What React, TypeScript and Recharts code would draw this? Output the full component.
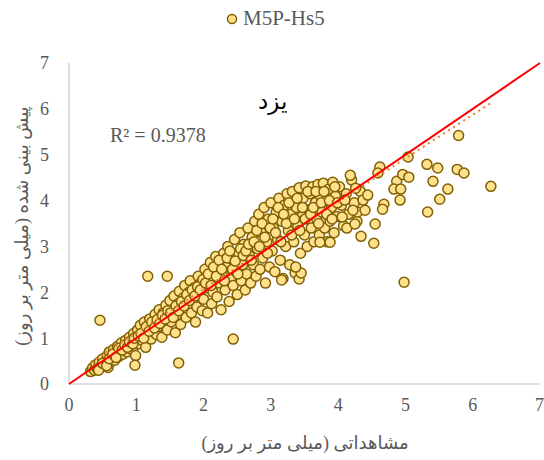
import { ScatterChart, Scatter, XAxis, YAxis } from 'recharts';

// observed (x) vs predicted (y), mm/day
const cloud: [number, number][] = [
  [0.32, 0.27], [0.35, 0.35], [0.38, 0.3], [0.4, 0.42], [0.42, 0.33], [0.45, 0.48], [0.47, 0.38],
  [0.5, 0.55], [0.52, 0.42], [0.55, 0.5], [0.57, 0.62], [0.58, 0.36], [0.6, 0.7], [0.62, 0.48],
  [0.64, 0.58], [0.66, 0.75], [0.68, 0.52], [0.7, 0.66], [0.72, 0.82], [0.74, 0.6], [0.76, 0.72],
  [0.78, 0.9], [0.8, 0.65], [0.82, 0.78], [0.84, 0.95], [0.86, 0.7], [0.88, 0.86], [0.9, 1.02],
  [0.92, 0.76], [0.94, 0.92], [0.96, 1.1], [0.98, 0.84], [0.99, 0.62],
  [1.0, 1.0], [1.02, 1.18], [1.04, 0.88], [1.06, 1.28], [1.08, 0.96], [1.1, 1.12], [1.12, 1.35],
  [1.14, 0.8], [1.16, 1.05], [1.18, 1.22], [1.2, 1.42], [1.22, 0.98], [1.24, 1.15], [1.26, 1.3],
  [1.28, 1.52], [1.3, 1.08], [1.32, 1.25], [1.34, 1.62], [1.36, 1.4], [1.38, 1.02], [1.4, 1.55],
  [1.42, 1.3], [1.44, 1.72], [1.46, 1.18], [1.48, 1.48], [1.5, 1.82], [1.52, 1.36], [1.54, 1.62],
  [1.56, 1.92], [1.58, 1.12], [1.6, 1.5], [1.62, 1.75], [1.64, 2.02], [1.66, 1.3], [1.68, 1.6],
  [1.7, 1.88], [1.72, 2.15], [1.74, 1.45], [1.76, 1.72], [1.78, 2.0], [1.8, 2.25], [1.82, 1.55],
  [1.84, 1.85], [1.86, 2.1], [1.88, 1.35], [1.9, 1.68], [1.92, 2.35], [1.94, 1.95], [1.96, 2.2],
  [1.98, 1.6], [2.0, 1.85], [2.02, 2.5], [2.04, 2.1], [2.06, 1.55], [2.08, 2.3], [2.1, 2.65],
  [2.12, 1.75], [2.14, 2.0], [2.16, 2.45], [2.18, 2.78], [2.2, 1.9], [2.22, 2.2], [2.24, 2.6],
  [2.26, 1.62], [2.28, 2.38], [2.3, 2.85], [2.32, 2.05], [2.34, 2.55], [2.36, 3.0], [2.38, 1.8],
  [2.4, 2.3], [2.42, 2.72], [2.44, 2.15], [2.46, 3.15], [2.48, 2.45], [2.5, 1.95], [2.52, 2.85],
  [2.54, 3.3], [2.56, 2.25], [2.58, 2.6], [2.6, 3.05], [2.62, 2.05], [2.64, 2.4], [2.66, 3.4],
  [2.68, 2.8], [2.7, 2.2], [2.72, 3.2], [2.74, 2.6], [2.76, 3.55], [2.78, 2.35], [2.8, 2.95],
  [2.82, 3.7], [2.84, 2.5], [2.86, 3.3], [2.88, 2.75], [2.9, 3.85], [2.92, 2.2], [2.94, 3.1],
  [2.96, 3.6], [2.98, 2.55], [3.0, 3.95], [3.02, 2.9], [3.04, 3.4], [3.06, 2.45], [3.08, 3.75],
  [3.1, 3.15], [3.12, 4.05], [3.14, 2.7], [3.16, 3.55], [3.18, 2.3], [3.2, 3.9], [3.22, 3.0],
  [3.24, 4.15], [3.26, 3.35], [3.28, 2.6], [3.3, 3.7], [3.32, 4.2], [3.34, 3.1], [3.36, 2.42],
  [3.38, 3.85], [3.4, 3.45], [3.42, 4.28], [3.44, 2.85], [3.46, 3.65], [3.48, 4.05], [3.5, 3.25],
  [3.52, 4.32], [3.54, 3.0], [3.56, 3.8], [3.58, 4.15], [3.6, 3.4], [3.62, 4.3], [3.64, 3.1],
  [3.66, 3.95], [3.68, 3.6], [3.7, 4.35], [3.72, 3.25], [3.74, 4.1], [3.76, 3.75], [3.78, 4.38],
  [3.8, 3.4], [3.82, 4.0], [3.84, 3.1], [3.86, 4.25], [3.88, 3.55], [3.9, 3.85], [3.92, 4.4],
  [3.94, 3.3], [3.96, 4.1], [3.98, 3.65], [4.02, 4.3], [4.05, 3.9], [4.08, 3.45], [4.12, 4.15],
  [4.15, 3.7], [4.2, 4.45], [4.24, 3.95], [4.28, 3.55], [4.33, 4.2],
  // second pass, filling the band
  [0.44, 0.3], [0.5, 0.45], [0.56, 0.4], [0.6, 0.55], [0.65, 0.65], [0.7, 0.58], [0.74, 0.78],
  [0.79, 0.74], [0.83, 0.85], [0.87, 0.8], [0.9, 0.92], [0.95, 0.88], [0.97, 1.0],
  [1.03, 1.05], [1.07, 1.1], [1.11, 1.0], [1.15, 1.25], [1.19, 1.15], [1.23, 1.35], [1.27, 1.22],
  [1.31, 1.4], [1.35, 1.32], [1.39, 1.5], [1.43, 1.42], [1.47, 1.6], [1.51, 1.55], [1.55, 1.45],
  [1.59, 1.7], [1.63, 1.6], [1.67, 1.8], [1.71, 1.7], [1.75, 1.95], [1.79, 1.82], [1.83, 2.05],
  [1.87, 1.92], [1.91, 2.12], [1.95, 2.05], [1.99, 2.28], [2.03, 2.2], [2.07, 2.4], [2.11, 2.15],
  [2.15, 2.55], [2.19, 2.35], [2.23, 2.7], [2.27, 2.5], [2.31, 2.25], [2.35, 2.75], [2.39, 2.9],
  [2.43, 2.5], [2.47, 2.68], [2.51, 2.4], [2.55, 2.95], [2.59, 2.8], [2.63, 2.9], [2.67, 3.05],
  [2.71, 2.7], [2.75, 3.1], [2.79, 3.35], [2.83, 3.0], [2.87, 3.5], [2.91, 3.2], [2.95, 2.85],
  [2.99, 3.4], [3.03, 3.6], [3.07, 3.3], [3.11, 3.85], [3.15, 3.1], [3.19, 3.7], [3.23, 3.5],
  [3.27, 3.95], [3.31, 3.25], [3.35, 3.6], [3.39, 4.05], [3.43, 3.35], [3.47, 3.85], [3.51, 3.6],
  [3.55, 4.2], [3.59, 3.7], [3.63, 3.85], [3.67, 4.2], [3.71, 3.5], [3.75, 3.95], [3.79, 4.2],
  [3.83, 3.7], [3.87, 4.0], [3.91, 3.6], [3.95, 4.3], [3.99, 3.95],
];

const outliers: [number, number][] = [
  [0.46, 1.39], [1.17, 2.35], [1.46, 2.35], [0.98, 0.41], [1.63, 0.46], [2.44, 0.98],
  [4.98, 2.22], [3.16, 2.27], [3.42, 2.29], [3.45, 2.42], [3.37, 2.55], [3.73, 3.09],
  [3.88, 3.09], [4.18, 4.55], [4.06, 3.64], [4.13, 3.4], [4.25, 3.49], [4.34, 3.22],
  [4.53, 3.07], [4.55, 3.49], [4.29, 3.75], [4.4, 3.79], [4.22, 3.79], [4.37, 4.01],
  [4.1, 4.01], [4.26, 4.27], [4.44, 4.12], [4.68, 3.92], [4.66, 3.81], [4.62, 4.73],
  [4.59, 4.6], [4.87, 4.42], [4.83, 4.25], [4.93, 4.25], [4.92, 4.01], [4.96, 4.57],
  [5.05, 4.51], [5.04, 4.95], [5.32, 4.79], [5.48, 4.71], [5.77, 4.68], [5.87, 4.6],
  [5.41, 4.42], [5.63, 4.25], [5.51, 4.03], [5.33, 3.75], [5.79, 5.42], [6.27, 4.31],
];

const axisTicks = [0, 1, 2, 3, 4, 5, 6, 7];
const trendSlope = 0.95;
const trendIntercept = 0.17;
const trendRange = [0.32, 6.27];
const oneToOne = [0, 7];
const rSquared = '0.9378';

const points = [...cloud, ...outliers].map(([x, y]) => ({ x, y }));
const trendData = trendRange.map((x) => ({ x, y: trendSlope * x + trendIntercept }));
const lineData = oneToOne.map((v) => ({ x: v, y: v }));

const serif = "'Liberation Serif', 'Times New Roman', 'DejaVu Sans', serif";
const gray = '#595959';

function Dot(props: any) {
  return (
    <circle cx={props.cx} cy={props.cy} r={5} fill="#FFE08C" stroke="#806000" strokeWidth={1.5} />
  );
}

const NoDot = () => <g />;

export default function App() {
  return (
    <div style={{ position: 'absolute', left: 0, top: 0, width: 544, height: 460, background: '#fff', fontFamily: serif }}>
      <ScatterChart width={544} height={460} margin={{ top: 63, right: 4, bottom: 46, left: 29 }}>
        <XAxis
          type="number"
          dataKey="x"
          domain={[0, 7]}
          ticks={axisTicks}
          stroke="#bfbfbf"
          tickLine={false}
          tickSize={0}
          tickMargin={14}
          height={30}
          tick={{ fill: gray, fontSize: 18, fontFamily: serif }}
        />
        <YAxis
          type="number"
          dataKey="y"
          domain={[0, 7]}
          ticks={axisTicks}
          stroke="#bfbfbf"
          tickLine={false}
          tickSize={0}
          tickMargin={20}
          width={40}
          tick={{ fill: gray, fontSize: 18, fontFamily: serif }}
        />
        <Scatter data={points} shape={Dot} isAnimationActive={false} />
        <Scatter
          data={trendData}
          shape={NoDot}
          line={{ stroke: '#ED7D31', strokeWidth: 2, strokeDasharray: '2 4' }}
          isAnimationActive={false}
        />
        <Scatter
          data={lineData}
          shape={NoDot}
          line={{ stroke: '#FF0000', strokeWidth: 2 }}
          isAnimationActive={false}
        />
      </ScatterChart>

      <div style={{ position: 'absolute', left: 226, top: 6, display: 'flex', alignItems: 'center', color: gray, fontSize: 21 }}>
        <svg width={12} height={12} style={{ marginRight: 5 }}>
          <circle cx={6} cy={6} r={4.5} fill="#FFE08C" stroke="#806000" strokeWidth={1.5} />
        </svg>
        M5P-Hs5
      </div>
      <div style={{ position: 'absolute', left: 258, top: 88, fontSize: 23, color: '#000', direction: 'rtl' }}>یزد</div>
      <div style={{ position: 'absolute', left: 110, top: 124, fontSize: 20, color: gray }}>
        R² = {rSquared}
      </div>
      <div
        style={{
          position: 'absolute',
          left: 22,
          top: 226,
          transform: 'translate(-50%, -50%) rotate(-90deg)',
          whiteSpace: 'nowrap',
          fontSize: 18,
          color: gray,
          direction: 'rtl',
        }}
      >
        پیش بینی شده (میلی متر بر روز)
      </div>
      <div
        style={{
          position: 'absolute',
          left: 305,
          top: 443,
          transform: 'translate(-50%, -50%)',
          whiteSpace: 'nowrap',
          fontSize: 18,
          color: gray,
          direction: 'rtl',
        }}
      >
        مشاهداتی (میلی متر بر روز)
      </div>
    </div>
  );
}
